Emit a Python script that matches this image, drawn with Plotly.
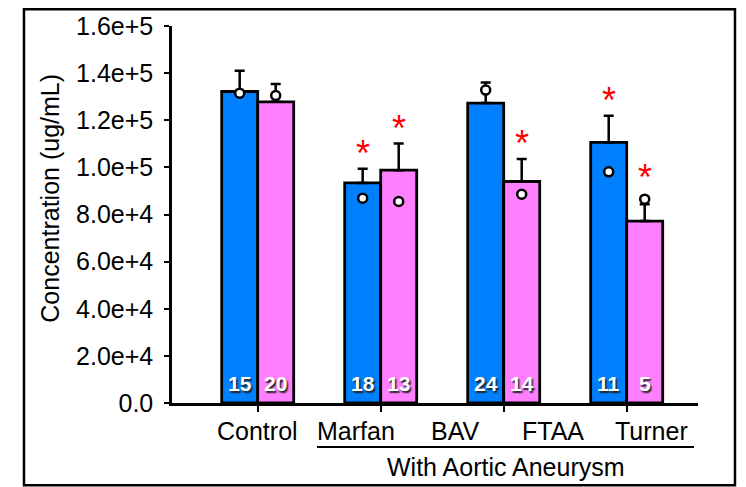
import plotly.graph_objects as go

# ---- data ----
groups = [0, 1, 2, 3]
blue_mean = [132200, 93400, 127300, 110600]
blue_sem = [8800, 6000, 8700, 11300]
blue_dot = [131500, 86900, 132800, 98100]
blue_n = [15, 18, 24, 11]
blue_sig = [False, True, False, True]

pink_mean = [127800, 98800, 94000, 77200]
pink_sem = [7600, 11300, 9600, 7100]
pink_dot = [130500, 85500, 88600, 86500]
pink_n = [20, 13, 14, 5]
pink_sig = [False, True, True, True]

x_labels = ["Control", "Marfan", "BAV", "FTAA", "Turner"]
group_title = "With Aortic Aneurysm"
y_tickvals = [0, 20000, 40000, 60000, 80000, 100000, 120000, 140000, 160000]
y_ticktext = ["0.0", "2.0e+4", "4.0e+4", "6.0e+4", "8.0e+4", "1.0e+5", "1.2e+5", "1.4e+5", "1.6e+5"]
y_title = "Concentration (ug/mL)"

# ---- style ----
FONT = "Arial, Liberation Sans, sans-serif"
BLUE = "#0080FF"
PINK = "#FF80FF"
BW = 0.2927
OFF = BW / 2

fig = go.Figure()

series = [
    (blue_mean, blue_sem, blue_dot, blue_n, blue_sig, BLUE, -OFF),
    (pink_mean, pink_sem, pink_dot, pink_n, pink_sig, PINK, OFF),
]

annotations = []
for mean, sem, dot, n, sig, color, off in series:
    xs = [g + off for g in groups]
    fig.add_trace(go.Bar(
        x=xs, y=mean, width=BW,
        marker=dict(color=color, line=dict(color="black", width=2.8)),
        error_y=dict(type="data", symmetric=False, array=sem, arrayminus=[0] * len(sem),
                     color="black", thickness=2.5, width=5),
        showlegend=False, hoverinfo="skip",
    ))
    fig.add_trace(go.Scatter(
        x=xs, y=dot, mode="markers",
        marker=dict(color="white", size=9, line=dict(color="black", width=2.5)),
        showlegend=False, hoverinfo="skip",
    ))
    for x, m, s, d, cnt, sg in zip(xs, mean, sem, dot, n, sig):
        annotations.append(dict(
            x=x, y=0, xref="x", yref="y", text="<b>%d</b>" % cnt, showarrow=False,
            yanchor="middle", yshift=20,
            font=dict(family=FONT, size=21, color="white",
                      shadow="1.5px 1.5px 1.5px #222"),
        ))
        if sg:
            top = max(m + s, d + 3000)
            annotations.append(dict(
                x=x, y=top, xref="x", yref="y", text="*", showarrow=False,
                yanchor="middle", yshift=15,
                font=dict(family=FONT, size=36, color="#FF0000"),
            ))

# category labels (evenly spread under the axis)
for i, lab in enumerate(x_labels):
    annotations.append(dict(
        x=i * 0.8, y=-0.0755, xref="x", yref="paper", text=lab, showarrow=False,
        xanchor="center", yanchor="middle",
        font=dict(family=FONT, size=25, color="black"),
    ))
annotations.append(dict(
    x=0.635, y=-0.171, xref="paper", yref="paper", text=group_title, showarrow=False,
    xanchor="center", yanchor="middle",
    font=dict(family=FONT, size=25, color="black"),
))
annotations.append(dict(
    x=-0.2319, y=0.542, xref="paper", yref="paper", text=y_title, showarrow=False,
    textangle=-90, xanchor="center", yanchor="middle",
    font=dict(family=FONT, size=25, color="black"),
))

shapes = [
    dict(type="line", xref="paper", yref="paper", x0=0.2757, x1=0.9924,
         y0=-0.1166, y1=-0.1166, line=dict(color="black", width=2)),
    dict(type="rect", xref="paper", yref="paper", x0=-0.2814, x1=1.0703,
         y0=-0.2184, y1=1.0447, line=dict(color="black", width=2.5)),
]

fig.update_layout(
    width=746, height=487, autosize=False,
    margin=dict(l=172, r=48, t=23, b=84, pad=0),
    paper_bgcolor="white", plot_bgcolor="white",
    font=dict(family=FONT, color="black"),
    barmode="overlay",
    annotations=annotations, shapes=shapes,
    xaxis=dict(range=[-0.6967, 3.5797], tickvals=groups, ticktext=[""] * len(groups),
               ticks="outside", ticklen=6, tickwidth=2, tickcolor="black",
               showline=True, linecolor="black", linewidth=2.5,
               showgrid=False, zeroline=False),
    yaxis=dict(range=[0, 160000], tickvals=y_tickvals, ticktext=y_ticktext,
               ticks="outside", ticklen=5, tickwidth=2, tickcolor="black",
               ticklabelstandoff=6,
               tickfont=dict(family=FONT, size=25, color="black"),
               showline=True, linecolor="black", linewidth=2.5,
               showgrid=False, zeroline=False),
)

fig.write_html("out.html", config={"displayModeBar": False},
               post_script="document.body.style.margin='0';document.body.style.overflow='hidden';")
